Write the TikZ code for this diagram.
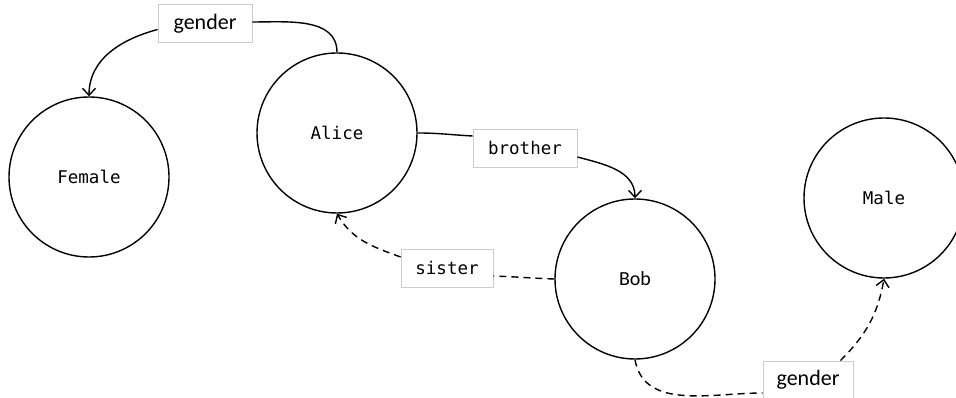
\documentclass[tikz,border=0pt]{standalone}
\usepackage{fontspec}
\newfontfamily\monof{DejaVu Sans Mono}
\newfontfamily\calibf{Carlito}
\usetikzlibrary{arrows.meta}
\begin{document}
\begin{tikzpicture}[x=1pt,y=1pt,
  ent/.style={circle,draw,line width=1.4pt,minimum size=160pt,inner sep=0pt,font=\monof\fontsize{17.5}{20}\selectfont},
  entb/.style={ent,font=\calibf\fontsize{20}{24}\selectfont},
  lbl/.style={draw=gray!40,fill=white,line width=0.8pt,inner sep=0pt,minimum height=38pt,font=\monof\fontsize{17.5}{20}\selectfont},
  lblc/.style={lbl,font=\calibf\fontsize{22}{26}\selectfont},
  edge/.style={line width=1.4pt},
  dedge/.style={edge,dash pattern=on 7pt off 5pt},
  >={Straight Barb[length=7pt,width=13pt,line width=1.4pt]}]
\useasboundingbox (0,0) rectangle (956,398);
\node[ent] (female) at (89,221) {Female};
\node[ent] (alice) at (337,265) {Alice};
\node[entb] (bob) at (635,119) {Bob};
\node[ent] (male) at (884,200) {Male};
\node[lblc,minimum width=94pt] (g1) at (205,374.5) {gender};
\node[lbl,minimum width=104pt] (br) at (525,250) {brother};
\node[lbl,minimum width=92pt] (si) at (447,130) {sister};
\node[lblc,minimum width=90pt] (g2) at (808,18) {gender};
% Alice -> Female (gender)
\draw[edge] (alice.north) to[out=90,in=0] ([yshift=1.5pt]g1.east);
\draw[edge,->] ([yshift=-6pt]g1.west) to[out=195,in=90] (female.north);
% Alice -> Bob (brother)
\draw[edge] (alice.east) to[out=0,in=177] ([yshift=12pt]br.west);
\draw[edge,->] ([yshift=-9pt]br.east) to[out=-15,in=90] (bob.north);
% Bob -> Alice (sister)
\draw[dedge] (bob.west) to[out=178,in=-2] ([yshift=-8pt]si.east);
\draw[dedge,->] ([yshift=11pt]si.west) to[out=160,in=-60] (alice.south);
% Bob -> Male (gender)
\draw[dedge] (bob.south) to[out=-80,in=180] ([yshift=-13pt]g2.west);
\draw[dedge,->] ([xshift=-13pt]g2.north east) to[out=45,in=-100] (male.south);
\end{tikzpicture}
\end{document}
